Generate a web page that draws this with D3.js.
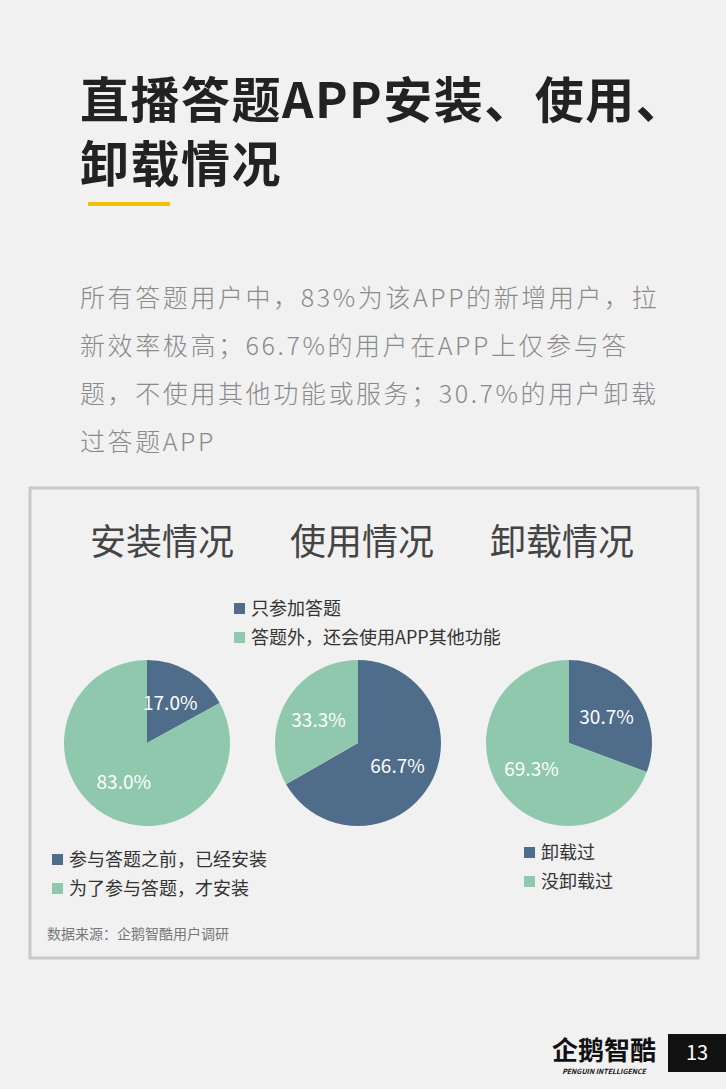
<!DOCTYPE html>
<html><head><meta charset="utf-8">
<script src="https://cdn.jsdelivr.net/npm/d3@7/dist/d3.min.js"></script>
<style>body{margin:0;background:#f1f1f1;font-family:"Noto Sans CJK SC","Noto Sans",sans-serif}</style>
</head><body><svg id="c" width="726" height="1089"></svg>
<script>
const titles = ['直播答题APP安装、使用、', '卸载情况']
const intro = ['所有答题用户中，83%为该APP的新增用户，拉', '新效率极高；66.7%的用户在APP上仅参与答', '题，不使用其他功能或服务；30.7%的用户卸载', '过答题APP']
const charts = ['安装情况', '使用情况', '卸载情况']
const blueValues = [17.0, 66.7, 30.7]
const greenValues = [83.0, 33.3, 69.3]
const legends = [
  ['参与答题之前，已经安装', '为了参与答题，才安装'],
  ['只参加答题', '答题外，还会使用APP其他功能'],
  ['卸载过', '没卸载过']
]
const colors = ['#4f6d8a', '#8fc8ad']

const svg = d3.select('#c')
svg.append('rect').attr('width', 726).attr('height', 1089).attr('fill', '#f1f1f1')

titles.forEach((t, i) => svg.append('text').attr('x', 80).attr('y', 118 + i * 64)
  .attr('font-size', 49).attr('letter-spacing', 1.5).attr('font-weight', 'bold').attr('fill', '#222').text(t))
svg.append('rect').attr('x', 88).attr('y', 202).attr('width', 82).attr('height', 4).attr('fill', '#f2c200')
intro.forEach((t, i) => svg.append('text').attr('x', 80).attr('y', 307 + i * 48)
  .attr('font-size', 25).attr('font-weight', 300).attr('letter-spacing', 2.6).attr('fill', '#8a8a8a').text(t))

svg.append('rect').attr('x', 30).attr('y', 488).attr('width', 668).attr('height', 470)
  .attr('fill', '#f1f1f1').attr('stroke', '#c9c9c9').attr('stroke-width', 3)

const cx = d3.scalePoint().domain(d3.range(3)).range([147, 569])
const headX = d3.scalePoint().domain(d3.range(3)).range([162, 562])
const r = 83
const pie = d3.pie().sort(null)
const arc = d3.arc().innerRadius(0).outerRadius(r)
const labelArc = d3.arc().innerRadius(r * 0.55).outerRadius(r * 0.55)

charts.forEach((name, i) => {
  svg.append('text').attr('x', headX(i)).attr('y', 555).attr('text-anchor', 'middle')
    .attr('font-size', 36).attr('fill', '#444').text(name)
  const g = svg.append('g').attr('transform', `translate(${cx(i)},743)`)
  const arcs = pie([blueValues[i], greenValues[i]])
  g.selectAll('path').data(arcs).join('path').attr('d', arc).attr('fill', (d, j) => colors[j])
  g.selectAll('text').data(arcs).join('text')
    .attr('transform', d => `translate(${labelArc.centroid(d)})`)
    .attr('text-anchor', 'middle').attr('dy', '0.35em').attr('font-size', 19).attr('fill', '#fff')
    .text(d => d.data.toFixed(1) + '%')
})

const legendPos = [[52, 860], [234, 609], [524, 853]]
legends.forEach((items, i) => {
  items.forEach((t, j) => {
    const [x, y] = legendPos[i]
    svg.append('rect').attr('x', x).attr('y', y + j * 29 - 6).attr('width', 11).attr('height', 11).attr('fill', colors[j])
    svg.append('text').attr('x', x + 17).attr('y', y + j * 29).attr('dy', '0.35em')
      .attr('font-size', 18).attr('fill', '#333').text(t)
  })
})
svg.append('text').attr('x', 47).attr('y', 939).attr('font-size', 14).attr('fill', '#777').text('数据来源：企鹅智酷用户调研')

svg.append('text').attr('x', 604).attr('y', 1060).attr('text-anchor', 'middle').attr('font-size', 26)
  .attr('font-weight', 'bold').attr('fill', '#111').text('企鹅智酷')
svg.append('text').attr('x', 604).attr('y', 1074).attr('text-anchor', 'middle').attr('font-size', 7)
  .attr('font-style', 'italic').attr('font-weight', 'bold').attr('fill', '#111').text('PENGUIN INTELLIGENCE')
svg.append('rect').attr('x', 668).attr('y', 1034).attr('width', 58).attr('height', 38).attr('fill', '#111')
svg.append('text').attr('x', 697).attr('y', 1053).attr('dy', '0.35em').attr('text-anchor', 'middle')
  .attr('font-size', 20).attr('fill', '#fff').text('13')
</script></body></html>
